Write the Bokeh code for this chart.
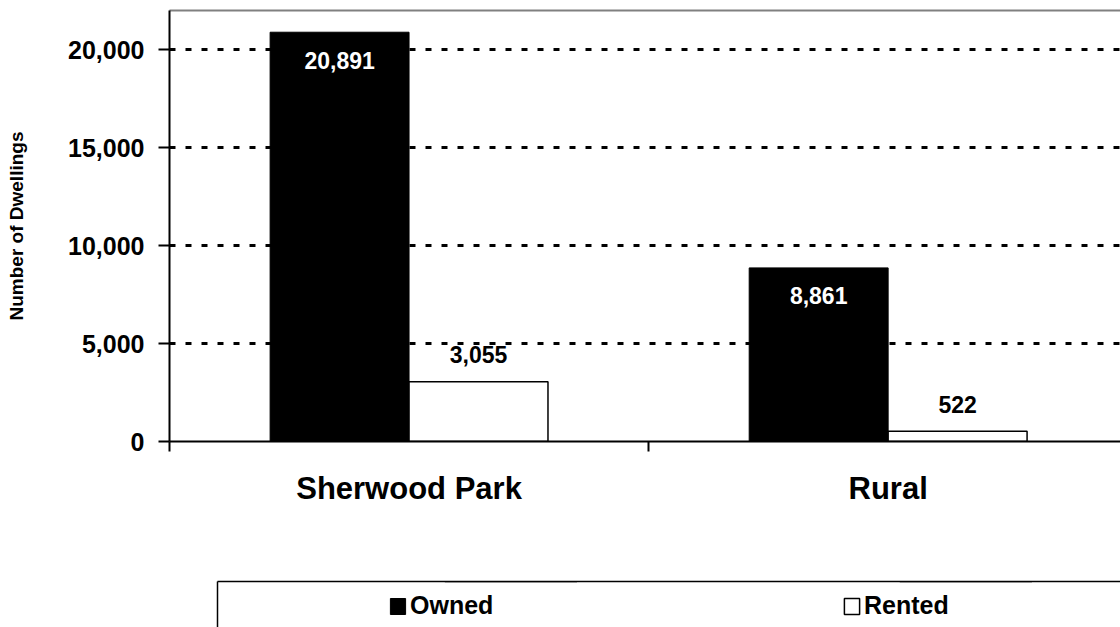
from bokeh.plotting import figure
from bokeh.models import (ColumnDataSource, Range1d, FixedTicker, NumeralTickFormatter,
                          LinearAxis, Legend, LegendItem)
from bokeh.layouts import column
from bokeh.core.properties import value
from bokeh.embed import file_html
from bokeh.resources import INLINE

# ---- data ----
categories = ["Sherwood Park", "Rural"]
owned = [20891, 8861]
rented = [3055, 522]
series_names = ["Owned", "Rented"]
y_ticks = [0, 5000, 10000, 15000, 20000]

FONT = "Liberation Sans"
BAR_W = 0.29
OFF = 0.145

idx = list(range(len(categories)))
src_owned = ColumnDataSource(dict(
    x=[i + 0.5 - OFF for i in idx], top=owned,
    label=[f"{v:,}" for v in owned]))
src_rented = ColumnDataSource(dict(
    x=[i + 0.5 + OFF for i in idx], top=rented,
    label=[f"{v:,}" for v in rented]))

p = figure(width=1120, height=579, output_backend="svg", toolbar_location=None,
           x_range=Range1d(0, 1.985), y_range=Range1d(0, 22000),
           min_border_left=169, min_border_right=0, min_border_top=10,
           min_border_bottom=138, x_axis_location=None, frame_align=False)
p.outline_line_color = None
p.background_fill_color = "white"
p.border_fill_color = "white"

# grid
p.xgrid.visible = False
p.ygrid.ticker = FixedTicker(ticks=y_ticks[1:])
p.ygrid.grid_line_color = "black"
p.ygrid.grid_line_dash = "6 10"
p.ygrid.grid_line_width = 3

# y axis
ya = p.yaxis[0]
ya.ticker = FixedTicker(ticks=y_ticks)
ya.formatter = NumeralTickFormatter(format="0,0")
ya.axis_line_color = "black"
ya.axis_line_width = 2
ya.major_tick_line_width = 2
ya.major_tick_out = 11
ya.major_tick_in = 0
ya.minor_tick_line_color = None
ya.major_label_standoff = 14
ya.major_label_text_font = FONT
ya.major_label_text_font_style = "bold"
ya.major_label_text_font_size = "25px"
ya.major_label_text_color = "black"
ya.axis_label = "Number of Dwellings"
ya.axis_label_text_font = FONT
ya.axis_label_text_font_style = "bold"
ya.axis_label_text_font_size = "19px"
ya.axis_label_text_color = "black"
ya.axis_label_standoff = 38

# x axis (categories at centers, boundary ticks as minor ticks)
xa = LinearAxis(ticker=FixedTicker(ticks=[i + 0.5 for i in idx],
                                   minor_ticks=[0, 1, 2]),
                major_label_overrides={i + 0.5: c for i, c in zip(idx, categories)})
xa.axis_line_color = "black"
xa.axis_line_width = 2
xa.major_tick_line_color = None
xa.major_tick_out = 0
xa.major_tick_in = 0
xa.minor_tick_line_color = "black"
xa.minor_tick_line_width = 2
xa.minor_tick_out = 10
xa.minor_tick_in = 0
xa.major_label_standoff = 19
xa.major_label_text_font = FONT
xa.major_label_text_font_style = "bold"
xa.major_label_text_font_size = "31px"
xa.major_label_text_color = "black"
p.add_layout(xa, "below")

# top border line
ta = LinearAxis(ticker=FixedTicker(ticks=[]))
ta.axis_line_color = "#808080"
ta.axis_line_width = 2
ta.major_tick_line_color = None
ta.minor_tick_line_color = None
ta.major_tick_out = 0
ta.minor_tick_out = 0
ta.major_label_standoff = 0
p.add_layout(ta, "above")

# bars
p.vbar(x="x", top="top", width=BAR_W, source=src_owned,
       fill_color="black", line_color="black", line_width=1)
p.vbar(x="x", top="top", width=BAR_W, source=src_rented,
       fill_color="white", line_color="black", line_width=1.5)

# data labels
p.text(x="x", y="top", text="label", source=src_owned, y_offset=28,
       text_align="center", text_baseline="middle", text_color="white",
       text_font=value(FONT), text_font_style="bold", text_font_size="23px")
p.text(x="x", y="top", text="label", source=src_rented, y_offset=-27,
       text_align="center", text_baseline="middle", text_color="black",
       text_font=value(FONT), text_font_style="bold", text_font_size="23px")

# ---- legend strip (separate figure below the chart; its frame is the legend box) ----
lg = figure(width=1120, height=48, output_backend="svg", toolbar_location=None,
            x_range=Range1d(0, 1.985), y_range=Range1d(-2, -1),
            min_border_left=217, min_border_right=0, min_border_top=2,
            min_border_bottom=0, x_axis_location=None, y_axis_location=None,
            frame_align=False)
lg.outline_line_color = None
lg.xgrid.visible = False
lg.ygrid.visible = False
for side in ("left", "above"):
    ax = LinearAxis(ticker=FixedTicker(ticks=[]))
    ax.axis_line_color = "black"
    ax.axis_line_width = 1.5
    ax.major_tick_line_color = None
    ax.minor_tick_line_color = None
    ax.major_tick_out = 0
    ax.minor_tick_out = 0
    ax.major_label_standoff = 0
    lg.add_layout(ax, side)
# legend proxies: the same series, lying outside the strip's visible range
lg_owned = lg.vbar(x="x", top="top", width=BAR_W, source=src_owned,
                   fill_color="black", line_color="black", line_width=1)
lg_rented = lg.vbar(x="x", top="top", width=BAR_W, source=src_rented,
                    fill_color="white", line_color="black", line_width=1.5)
legend = Legend(items=[
    LegendItem(label=series_names[0], renderers=[lg_owned]),
    LegendItem(label=series_names[1], renderers=[lg_rented]),
], orientation="horizontal", location=(171, 7))
legend.spacing = 0
legend.padding = 0
legend.margin = 0
legend.glyph_width = 19
legend.glyph_height = 20
legend.label_standoff = 3
legend.label_height = 20
legend.label_width = 432
legend.label_text_align = "left"
legend.label_text_baseline = "middle"
legend.label_text_font = FONT
legend.label_text_font_style = "bold"
legend.label_text_font_size = "25px"
legend.label_text_color = "black"
legend.border_line_color = None
legend.background_fill_alpha = 0
lg.add_layout(legend, "center")

open("out.html", "w").write(file_html(column(p, lg, spacing=0), INLINE))
